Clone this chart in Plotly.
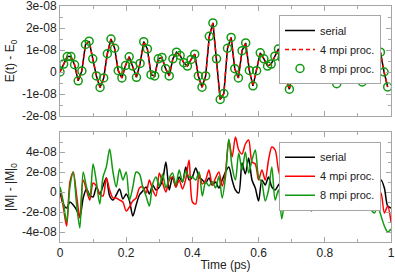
import numpy as np
import plotly.graph_objects as go

# ---------------- data (values in units of 1e-8) ----------------
energy_dt = 0.011
energy_serial = [0, 0.36, 0.7, 0.7, 0.33, -0.4, 0.05, 1.25, 1.4, 0.6,
                 -0.18, -0.7, -0.27, 0.83, 1.5, 1.08, 0.06, -0.27, 0.3, 0.69,
                 0.27, -0.24, 0.39, 1.38, 1.05, -0.12, -0.18, 0.6, 0.66, 0.15,
                 -0.18, 0.6, 0.9, 0.75, 0.42, 0.27, 0.57, 0.81, -0.18, -0.69,
                 -0.18, 1.62, 2.23, 0.6, -1.25, -0.98, 1.08, 1.57, 0.15, -0.27,
                 0.97, 1.32, 0.07, -0.63, 0.06, 0.87, 0.6, 0.27, 0.36, 0.72,
                 1.05, 0.63, -0.33, -0.78, 0.1, 0.9, 1.2, 0.6, -0.12, -0.12,
                 0.15, 0.42, 1.0, 1.3, 0.7, -0.05, -0.53, 0.0, 0.8, 1.2,
                 0.9, 0.45, 0.0, -0.45, 0.0, 0.7, 1.1, 0.6, 0.9, 0.0, -0.68]
energy_4mpi = list(energy_serial)
energy_8mpi = list(energy_serial)

mag_dt = 0.01
mag_serial = [0, -1.2, -1.6, -1.0, -1.3, -1.8, -2.5, -0.6, 0.3, -0.3,
              -0.5, 0.5, -0.2, 0.6, 1.4, -0.4, -0.8, -0.3, 0.3, -0.7,
              -0.2, -0.9, -2.4, -1.3, -0.3, 0.1, 0.5, -0.2, 0.7, 0.2,
              0.5, 1.2, 3.0, 0.2, 1.5, 0.5, 1.5, 1.0, 2.5, 1.2,
              1.5, 2.4, 1.5, 1.2, 0.9, 1.4, 0.7, 1.0, 0.4, 1.2,
              2.0, 2.5, 1.2, 0.2, -0.1, 2.9, 1.8, 3.4, 1.2, 0.4,
              -0.9, 1.2, 0.7, 1.5, 0.5, 0.2, 0.7, 1.0, 0.4, 0.9,
              0.7, 0.4, -0.1, 0.5, 0.8, 0.3, 0.5, 0.0, 0.2, 0.4,
              0.1, 0.7, 0.2, 0.5, 0.0, 0.7, 0.3, 0.2, 0.6, 0.1,
              0.6, 0.2, 0.0, 0.5, -0.2, 0.6, 0.2, 1.2, 0.4, -1.4, -1.6]
mag_4mpi = [0.4, -1.5, -3.4, 1.0, 2.0, -0.3, -2.6, 1.2, 0.2, -0.8,
            0.9, 0.6, -0.2, -0.4, 1.4, 0.2, -0.6, -0.6, -0.8, -1.0,
            -1.9, -1.5, -0.9, -0.6, 0.4, 0.5, -0.1, 1.2, 0.2, -0.4,
            1.9, 0.9, 0.0, 1.2, 1.5, 0.5, 1.2, 0.3, 1.3, 3.2,
            -1.0, -1.2, 1.9, 0.8, 1.2, 2.2, 0.7, 1.4, 2.0, 0.6,
            2.0, 5.2, 3.5, 5.5, 4.2, 3.8, 4.8, 5.2, 3.0, 2.8,
            1.2, 2.2, 1.2, 3.2, 4.5, 4.2, 2.2, 1.2, 3.3, 4.9,
            2.6, 0.3, 1.0, -0.4, 0.5, -0.9, 1.8, 2.5, 1.5, 2.8,
            1.2, 2.4, 0.9, 2.0, 0.5, 1.5, 0.8, 0.6, 1.4, 0.2,
            0.8, -0.2, 0.5, -1.1, -0.4, 0.1, -1.1, -0.1, -2.1, -1.4, -3.0]
mag_8mpi = [0.5, -1.0, -3.0, 0.5, 2.0, -1.2, -3.6, 2.0, 0.5, -0.5,
            2.8, 1.0, -1.2, 1.5, 2.5, 4.3, 2.0, 0.5, 2.3, 1.2,
            2.0, -0.8, 0.5, 2.0, 1.8, 0.5, -0.4, -1.4, 0.8, 1.5,
            0.6, 1.8, 0.4, 1.4, 1.9, 0.7, 2.2, 1.0, 2.1, 1.5,
            1.5, 1.2, 2.0, -0.4, 1.0, 0.6, 1.05, 0.4, 1.55, -0.6,
            1.5, 5.3, 2.5, 1.2, 3.9, 2.2, 4.0, 1.9, 3.2, 4.2,
            1.5, 0.9, -0.9, 0.2, 2.5, -0.8, 0.2, -2.7, -0.4, 1.2,
            -1.25, -1.75, -0.4, -1.6, -0.1, -1.2, -1.9, -0.8, 0.0, -0.4,
            0.3, -0.8, 0.2, 0.6, -0.5, 0.3, -0.4, 0.4, -0.2, -0.8,
            -1.75, -0.9, -0.3, -0.8, -1.75, -2.1, -1.5, -2.4, -3.4, -4.0, -3.7]

x_ticks = [0, 0.2, 0.4, 0.6, 0.8, 1.0]
x_ticktext = ["0", "0.2", "0.4", "0.6", "0.8", "1"]
e_ticks = [-2e-8, -1e-8, 0, 1e-8, 2e-8, 3e-8]
e_ticktext = ["-2e-08", "-1e-08", "0", "1e-08", "2e-08", "3e-08"]
m_ticks = [-4e-8, -2e-8, 0, 2e-8, 4e-8]
m_ticktext = ["-4e-08", "-2e-08", "0", "2e-08", "4e-08"]

SCALE = 1e-8
t_e = np.arange(len(energy_serial)) * energy_dt
t_m = np.arange(len(mag_serial)) * mag_dt

BLACK = "#000000"
RED = "#ff0000"
GREEN = "#119911"
AX = "#a6a6a6"
FONT = "Liberation Sans, Arial, sans-serif"

fig = go.Figure()
fig.add_trace(go.Scatter(x=t_e, y=np.array(energy_serial) * SCALE, mode="lines",
                         line=dict(color=BLACK, width=1.5), name="serial",
                         xaxis="x", yaxis="y", legend="legend"))
fig.add_trace(go.Scatter(x=t_e, y=np.array(energy_4mpi) * SCALE, mode="lines",
                         line=dict(color=RED, width=1.5, dash="4px,3px"), name="4 mpi proc.",
                         xaxis="x", yaxis="y", legend="legend"))
fig.add_trace(go.Scatter(x=t_e, y=np.array(energy_8mpi) * SCALE, mode="markers",
                         marker=dict(symbol="circle-open", size=8, color=GREEN,
                                     line=dict(width=1.5, color=GREEN)),
                         name="8 mpi proc.", xaxis="x", yaxis="y", legend="legend"))

fig.add_trace(go.Scatter(x=t_m, y=np.array(mag_serial) * SCALE, mode="lines",
                         line=dict(color=BLACK, width=1.5, shape="spline", smoothing=0.8),
                         name="serial", xaxis="x2", yaxis="y2", legend="legend2"))
fig.add_trace(go.Scatter(x=t_m, y=np.array(mag_4mpi) * SCALE, mode="lines",
                         line=dict(color=RED, width=1.5, shape="spline", smoothing=0.8),
                         name="4 mpi proc.", xaxis="x2", yaxis="y2", legend="legend2"))
fig.add_trace(go.Scatter(x=t_m, y=np.array(mag_8mpi) * SCALE, mode="lines",
                         line=dict(color=GREEN, width=1.5, shape="spline", smoothing=0.8),
                         name="8 mpi proc.", xaxis="x2", yaxis="y2", legend="legend2"))

W, H = 395, 272
xl, xr = 60 / W, 391 / W
axis_common = dict(showline=True, linecolor=AX, linewidth=1, mirror="ticks",
                   ticks="inside", ticklen=5, tickcolor=AX, tickwidth=1,
                   showgrid=False, zeroline=False, automargin=False,
                   ticklabeloverflow="allow",
                   tickfont=dict(family=FONT, size=12, color="#222222"))

leg_common = dict(xanchor="right", yanchor="top", bgcolor="white",
                  bordercolor=AX, borderwidth=1,
                  font=dict(family=FONT, size=11, color="#222222"),
                  itemwidth=30, tracegroupgap=0)

fig.update_layout(
    width=W, height=H, margin=dict(l=0, r=0, t=0, b=0, autoexpand=False),
    paper_bgcolor="white", plot_bgcolor="white",
    font=dict(family=FONT, size=12, color="#222222"),
    xaxis=dict(domain=[xl, xr], range=[0, 1], anchor="y", tickmode="array",
               tickvals=x_ticks, showticklabels=False,
               minor=dict(tickmode="array", tickvals=[0.1, 0.3, 0.5, 0.7, 0.9],
                          ticks="inside", ticklen=3, tickcolor=AX),
               **axis_common),
    yaxis=dict(domain=[(H - 116) / H, (H - 6) / H], range=[-2e-8, 3e-8], anchor="x",
               tickmode="array", tickvals=e_ticks, ticktext=e_ticktext,
               minor=dict(tickmode="array",
                          tickvals=[-1.5e-8, -0.5e-8, 0.5e-8, 1.5e-8, 2.5e-8],
                          ticks="inside", ticklen=3, tickcolor=AX),
               title=dict(text="E(t) - E<sub>0</sub>", font=dict(family=FONT, size=12),
                          standoff=4),
               **axis_common),
    xaxis2=dict(domain=[xl, xr], range=[0, 1], anchor="y2", tickmode="array",
                tickvals=x_ticks, ticktext=x_ticktext,
                minor=dict(tickmode="array", tickvals=[0.1, 0.3, 0.5, 0.7, 0.9],
                           ticks="inside", ticklen=3, tickcolor=AX),
                title=dict(text="Time (ps)", font=dict(family=FONT, size=12), standoff=2),
                **axis_common),
    yaxis2=dict(domain=[(H - 242) / H, (H - 132) / H], range=[-5e-8, 6e-8], anchor="x2",
                tickmode="array", tickvals=m_ticks, ticktext=m_ticktext,
                minor=dict(tickmode="array",
                           tickvals=[-5e-8, -3e-8, -1e-8, 1e-8, 3e-8, 5e-8],
                           ticks="inside", ticklen=3, tickcolor=AX),
                title=dict(text="|M| - |M|<sub>0</sub>", font=dict(family=FONT, size=12),
                           standoff=4),
                **axis_common),
    legend=dict(x=381 / W, y=(H - 15) / H, **leg_common),
    legend2=dict(x=381 / W, y=(H - 141.7) / H, **leg_common),
)

fig.write_html("out.html", config={"displayModeBar": False},
               post_script="document.body.style.margin='0';document.body.style.overflow='hidden';")
